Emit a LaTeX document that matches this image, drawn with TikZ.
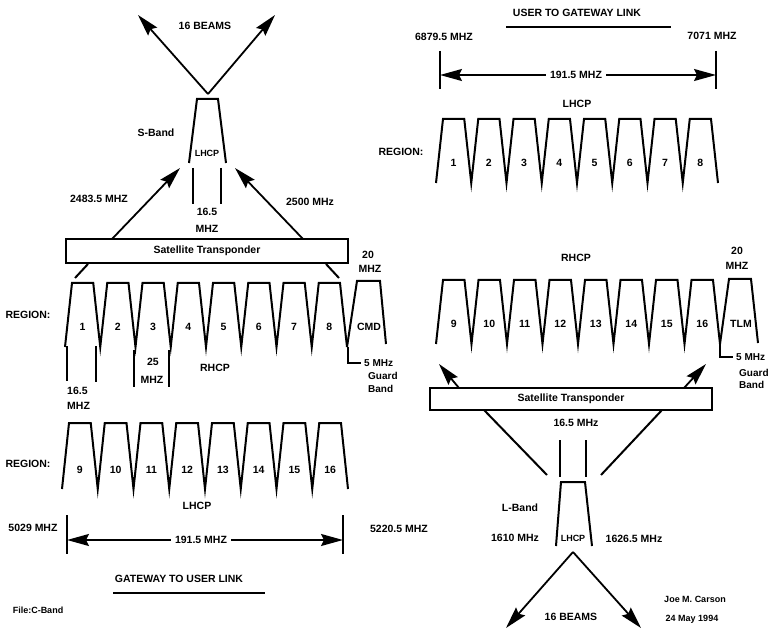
\documentclass[tikz,border=0pt]{standalone}
\usepackage{fontspec}
\setmainfont{Liberation Sans}
\usetikzlibrary{arrows.meta}
\tikzset{
  lbl/.style={font=\fontsize{10.5}{12}\selectfont\bfseries, inner sep=0pt},
  sml/.style={font=\fontsize{9}{11}\selectfont\bfseries, inner sep=0pt},
  grd/.style={font=\fontsize{10}{12}\selectfont\bfseries, inner sep=0pt},
  num/.style={font=\fontsize{10.5}{12}\selectfont\bfseries, inner sep=0pt},
  chan/.style={line width=2pt, line join=miter, line cap=butt},
  thin/.style={line width=2pt},
  big/.style={-{Stealth[length=22pt,width=12pt,inset=3pt]}, line width=1.8pt},
  tbox/.style={draw, line width=2pt, inner sep=0pt, font=\fontsize{10.5}{12}\selectfont\bfseries},
  dim/.style={font=\fontsize{10.5}{12}\selectfont\bfseries, inner ysep=0pt, inner xsep=4pt}
}
\newcommand\chanrow[6]{%
  \draw[chan] (#1,#5) \foreach \i in {1,...,#6}{ -- ({#1+(\i-1)*#2+#3},#4) -- ({#1+\i*#2-#3},#4) -- ({#1+\i*#2},#5) };%
}
\begin{document}
\begin{tikzpicture}[x=1pt,y=-1pt]
\useasboundingbox (0,0) rectangle (769,631);

%% ================= LEFT: GATEWAY TO USER LINK =================
% S-band beams
\coordinate (sapex) at (208,94);
\coordinate (stipL) at (138,15);
\coordinate (stipR) at (275,15);
\draw[big] (sapex) -- (stipL);
\draw[big] (sapex) -- (stipR);
\node[lbl] (sbeams) at (205,26) {16 BEAMS};
% S-band filter
\draw[chan] (189,163) -- (197,99) -- (218,99) -- (226,163);
\node[sml] (slhcp) at (207,153) {LHCP};
\node[lbl] (sband) at (156,133) {S-Band};
\draw[thin] (193,168) -- (193,204);
\draw[thin] (221,168) -- (221,204);
\node[lbl] (sbw1) at (207,212) {16.5};
\node[lbl] (sbw2) at (207,229) {MHZ};
% transponder
\node[tbox, minimum width=282pt, minimum height=24pt] (tx1) at (207,251) {Satellite Transponder};
\coordinate (a1s) at (112,239); \coordinate (a1e) at (180,168);
\coordinate (a2s) at (303,239); \coordinate (a2e) at (235,168);
\draw[big] (a1s) -- (a1e);
\draw[big] (a2s) -- (a2e);
\node[lbl] (f1) at (99,199) {2483.5 MHZ};
\node[lbl] (f2) at (310,202) {2500 MHz};
\coordinate (l1s) at (88,264); \coordinate (l1e) at (75,278);
\coordinate (l2s) at (326,264); \coordinate (l2e) at (339,278);
\draw[thin] (l1s) -- (l1e);
\draw[thin] (l2s) -- (l2e);
% RHCP row 1-8 + CMD
\chanrow{65}{35.25}{7}{283}{347}{8}
\draw[chan] (347,347) -- (357,281) -- (380,281) -- (386,344);
\foreach \n [count=\k] in {1,...,8}
  \node[num] (ra\n) at ({65+(\k-0.5)*35.25},327) {\n};
\node[num] (cmd) at (369,327) {CMD};
\node[lbl] (reg1) at (28,315) {REGION:};
\node[lbl] (cw1) at (368,255) {20};
\node[lbl] (cw2) at (370,269) {MHZ};
\draw[thin] (348,347) -- (348,363) -- (361,363);
\node[grd, anchor=west] (g1) at (364,363) {5 MHz};
\node[grd, anchor=west] (g2) at (368,376) {Guard};
\node[grd, anchor=west] (g3) at (368,389) {Band};
% brackets
\draw[thin] (67,346) -- (67,381);
\draw[thin] (96,346) -- (96,382);
\node[lbl, anchor=west] (bw1) at (67,391) {16.5};
\node[lbl, anchor=west] (bw2) at (67,406) {MHZ};
\draw[thin] (134,350) -- (134,387);
\draw[thin] (169,350) -- (169,387);
\node[lbl] (bw3) at (153,362) {25};
\node[lbl] (bw4) at (152,380) {MHZ};
\node[lbl] (rhcp1) at (215,368) {RHCP};
% LHCP row 9-16
\chanrow{62}{35.75}{7}{423}{489}{8}
\foreach \n [count=\k] in {9,...,16}
  \node[num] (la\n) at ({62+(\k-0.5)*35.75},470) {\n};
\node[lbl] (reg2) at (28,464) {REGION:};
\node[lbl] (lhcp1) at (197,506) {LHCP};
% dimension
\draw[thin] (67,515) -- (67,554);
\draw[thin] (343,515) -- (343,554);
\coordinate (d2L) at (67,540); \coordinate (d2R) at (343,540);
\node[dim] (d2) at (201,540) {191.5 MHZ};
\draw[big] (d2.west) -- (d2L);
\draw[big] (d2.east) -- (d2R);
\node[lbl] (fl1) at (33,528) {5029 MHZ};
\node[lbl] (fl2) at (399,529) {5220.5 MHZ};
\node[lbl] (t1) at (179,579) {GATEWAY TO USER LINK};
\draw[thin] (113,593) -- (265,593);
\node[sml] (file) at (38,610) {File:C-Band};

%% ================= RIGHT: USER TO GATEWAY LINK =================
\node[lbl] (t2) at (577,13) {USER TO GATEWAY LINK};
\draw[thin] (506,27) -- (671,27);
\node[lbl] (fr1) at (444,37) {6879.5 MHZ};
\node[lbl] (fr2) at (712,36) {7071 MHZ};
\draw[thin] (440,51) -- (440,89);
\draw[thin] (716,51) -- (716,89);
\coordinate (d1L) at (440,75); \coordinate (d1R) at (716,75);
\node[dim] (d1) at (576,75) {191.5 MHZ};
\draw[big] (d1.west) -- (d1L);
\draw[big] (d1.east) -- (d1R);
\node[lbl] (lhcp2) at (577,104) {LHCP};
% LHCP row 1-8
\chanrow{436}{35.25}{7}{119}{183}{8}
\foreach \n [count=\k] in {1,...,8}
  \node[num] (rb\n) at ({436+(\k-0.5)*35.25},163) {\n};
\node[lbl] (reg3) at (401,152) {REGION:};
% RHCP row 9-16 + TLM
\node[lbl] (rhcp2) at (576,258) {RHCP};
\chanrow{436}{35.5}{7}{280}{344}{8}
\draw[chan] (720,344) -- (729,279) -- (751,279) -- (758,343);
\foreach \n [count=\k] in {9,...,16}
  \node[num] (lb\n) at ({436+(\k-0.5)*35.5},324) {\n};
\node[num] (tlm) at (741,324) {TLM};
\node[lbl] (tw1) at (737,251) {20};
\node[lbl] (tw2) at (737,266) {MHZ};
\draw[thin] (720,344) -- (720,357) -- (733,357);
\node[grd, anchor=west] (h1) at (736,357) {5 MHz};
\node[grd, anchor=west] (h2) at (739,373) {Guard};
\node[grd, anchor=west] (h3) at (739,385) {Band};
% transponder
\node[tbox, minimum width=282pt, minimum height=22pt] (tx2) at (571,399) {Satellite Transponder};
\coordinate (b1s) at (459,388); \coordinate (b1e) at (439,364);
\coordinate (b2s) at (684,388); \coordinate (b2e) at (706,364);
\draw[big] (b1s) -- (b1e);
\draw[big] (b2s) -- (b2e);
\coordinate (m1s) at (484,410); \coordinate (m1e) at (547,475);
\coordinate (m2s) at (662,410); \coordinate (m2e) at (601,475);
\draw[thin] (m1s) -- (m1e);
\draw[thin] (m2s) -- (m2e);
\node[lbl] (lbw) at (576,423) {16.5 MHz};
\draw[thin] (560,440) -- (560,477);
\draw[thin] (586,440) -- (586,477);
% L-band filter
\draw[chan] (556,546) -- (561,482) -- (585,482) -- (592,546);
\node[sml] (llhcp) at (573,538) {LHCP};
\node[lbl] (lband) at (520,508) {L-Band};
\node[lbl] (lf1) at (515,538) {1610 MHz};
\node[lbl] (lf2) at (634,539) {1626.5 MHz};
% L-band beams
\coordinate (lapex) at (573,552);
\coordinate (ltipL) at (506,628);
\coordinate (ltipR) at (641,628);
\draw[big] (lapex) -- (ltipL);
\draw[big] (lapex) -- (ltipR);
\node[lbl] (lbeams) at (571,617) {16 BEAMS};
\node[sml] (auth) at (695,599) {Joe M. Carson};
\node[sml] (date) at (692,619) {24 May 1994};
\end{tikzpicture}
\end{document}
